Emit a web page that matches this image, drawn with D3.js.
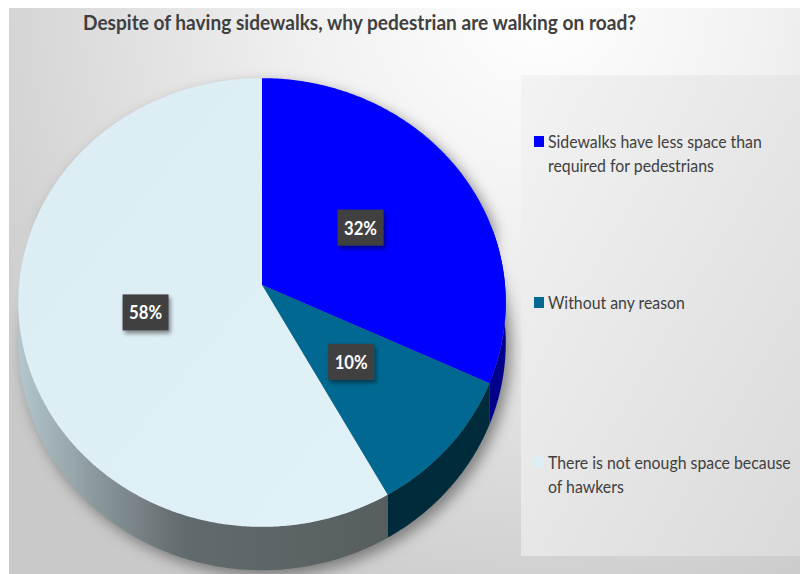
<!DOCTYPE html>
<html>
<head>
<meta charset="utf-8">
<script src="https://cdn.jsdelivr.net/npm/d3@7"></script>
<style>
  html, body { margin: 0; padding: 0; background: #ffffff; }
  svg { display: block; }
</style>
</head>
<body>
<svg id="chart" width="800" height="574"></svg>
<script>
// ---- data ----
const titleText = "Despite of having sidewalks, why pedestrian are walking on road?";
const categories = [
  "Sidewalks have less space than required for pedestrians",
  "Without any reason",
  "There is not enough space because of hawkers"
];
const legendLines = [
  ["Sidewalks have less space than", "required for pedestrians"],
  ["Without any reason"],
  ["There is not enough space because", "of hawkers"]
];
const values = [32, 10, 58];
const percentLabels = ["32%", "10%", "58%"];

// ---- styling ----
const topColors = ["#0000ff", "#006891", "url(#topLight)"];
const swatchColors = ["#0000ff", "#006891", "#ddeff5"];
const sideColors = ["#00008a", "#002b3b", "url(#sideLight)"];
const FONT = "Lato, 'Open Sans', sans-serif";

const W = 800, H = 574;
const svg = d3.select("#chart");
const defs = svg.append("defs");

// background gradients
const bg = defs.append("radialGradient").attr("id", "bgGrad")
  .attr("gradientUnits", "userSpaceOnUse")
  .attr("cx", 540).attr("cy", 0).attr("r", 660);
bg.append("stop").attr("offset", 0).attr("stop-color", "#ffffff");
bg.append("stop").attr("offset", 0.35).attr("stop-color", "#f1f1f1");
bg.append("stop").attr("offset", 1).attr("stop-color", "#c9c9c9");

const lg = defs.append("linearGradient").attr("id", "legendGrad")
  .attr("x1", 0).attr("y1", 0).attr("x2", 1).attr("y2", 1);
lg.append("stop").attr("offset", 0).attr("stop-color", "#f3f3f3");
lg.append("stop").attr("offset", 1).attr("stop-color", "#dadada");

const tl = defs.append("linearGradient").attr("id", "topLight")
  .attr("x1", 0).attr("y1", 0).attr("x2", 1).attr("y2", 1);
tl.append("stop").attr("offset", 0).attr("stop-color", "#dbecf2");
tl.append("stop").attr("offset", 1).attr("stop-color", "#e0f1f7");

const sl = defs.append("linearGradient").attr("id", "sideLight")
  .attr("gradientUnits", "userSpaceOnUse")
  .attr("x1", 18).attr("y1", 0).attr("x2", 390).attr("y2", 0);
sl.append("stop").attr("offset", 0).attr("stop-color", "#b3c7cd");
sl.append("stop").attr("offset", 0.2).attr("stop-color", "#8c9a9e");
sl.append("stop").attr("offset", 0.45).attr("stop-color", "#616a6c");
sl.append("stop").attr("offset", 1).attr("stop-color", "#575e60");

const shadow = defs.append("filter").attr("id", "pieShadow")
  .attr("x", "-20%").attr("y", "-20%").attr("width", "140%").attr("height", "140%");
shadow.append("feGaussianBlur").attr("stdDeviation", 7);

const boxShadow = defs.append("filter").attr("id", "boxShadow")
  .attr("x", "-30%").attr("y", "-30%").attr("width", "170%").attr("height", "170%");
boxShadow.append("feGaussianBlur").attr("in", "SourceAlpha").attr("stdDeviation", 2).attr("result", "b");
boxShadow.append("feOffset").attr("in", "b").attr("dx", 2).attr("dy", 3).attr("result", "o");
boxShadow.append("feComponentTransfer").attr("in", "o").attr("result", "s")
  .append("feFuncA").attr("type", "linear").attr("slope", 0.45);
const bm = boxShadow.append("feMerge");
bm.append("feMergeNode").attr("in", "s");
bm.append("feMergeNode").attr("in", "SourceGraphic");

// chart area
svg.append("rect").attr("x", 9).attr("y", 8).attr("width", W - 9).attr("height", H - 8)
  .attr("fill", "url(#bgGrad)");

// legend panel
svg.append("rect").attr("x", 521).attr("y", 75).attr("width", W - 521).attr("height", 481)
  .attr("fill", "url(#legendGrad)");

// ---- title ----
function fitText(sel, width) {
  const n = sel.node().getComputedTextLength();
  sel.attr("textLength", width).attr("lengthAdjust", "spacingAndGlyphs");
  return n;
}
const title = svg.append("text")
  .attr("x", 83).attr("y", 30)
  .attr("font-family", FONT).attr("font-weight", 700).attr("font-size", 20)
  .attr("fill", "#404040")
  .text(titleText);
fitText(title, 553);

// ---- 3D pie geometry (perspective projection of a tilted disc) ----
const cx = 262, cy = 285, rx = 243, ry = 223, persp = 0.078, depth = 40;
const rScale = d3.scaleLinear().domain([0, 1]).range([0, 1]);
function project(angle, r, h) {
  const X = rScale(r) * Math.sin(angle);
  const Y = -rScale(r) * Math.cos(angle);
  const w = 1 - persp * Y;
  return [cx + rx * X / w, cy + (ry * Y + h) / w];
}
function arcPoints(a0, a1, h) {
  const n = Math.max(2, Math.ceil(Math.abs(a1 - a0) / (Math.PI / 360)));
  return d3.range(n + 1).map(i => project(a0 + (a1 - a0) * i / n, 1, h));
}

const pie = d3.pie().sort(null).value(d => d);
const arcs = pie(values);
const line = d3.line();

// soft shadow under the whole disc
const outline = arcPoints(Math.PI / 2 - 0.3, Math.PI * 1.5 + 0.3, depth)
  .concat(arcPoints(Math.PI * 1.5 + 0.3, Math.PI * 2.5 - 0.3, 0));
svg.append("path")
  .attr("d", line(outline) + "Z")
  .attr("transform", "translate(5,6)")
  .attr("fill", "#5a5a5a").attr("opacity", 0.7)
  .attr("filter", "url(#pieShadow)");

// side walls (front half only)
const frontLo = Math.PI / 2 - 0.25, frontHi = Math.PI * 1.5 + 0.25;
svg.append("g").selectAll("path")
  .data(arcs)
  .join("path")
  .attr("d", d => {
    const a0 = Math.max(d.startAngle, frontLo), a1 = Math.min(d.endAngle, frontHi);
    if (a0 >= a1) return null;
    const pts = arcPoints(a0, a1, 0).concat(arcPoints(a1, a0, depth));
    return line(pts) + "Z";
  })
  .attr("fill", (d, i) => sideColors[i]);

// top faces
svg.append("g").selectAll("path")
  .data(arcs)
  .join("path")
  .attr("d", d => line([project(0, 0, 0)].concat(arcPoints(d.startAngle, d.endAngle, 0))) + "Z")
  .attr("fill", (d, i) => topColors[i]);

// ---- data labels ----
const lab = svg.append("g").selectAll("g")
  .data(arcs)
  .join("g")
  .attr("transform", d => {
    const p = project((d.startAngle + d.endAngle) / 2, 0.49, 0);
    return `translate(${p[0]},${p[1]})`;
  });
lab.append("rect")
  .attr("x", -23).attr("y", -18).attr("width", 46).attr("height", 36)
  .attr("fill", "#404040")
  .attr("filter", "url(#boxShadow)");
lab.append("text")
  .attr("text-anchor", "middle").attr("y", 7)
  .attr("font-family", FONT).attr("font-weight", 700).attr("font-size", 19)
  .attr("fill", "#ffffff")
  .text((d, i) => percentLabels[i])
  .each(function () { fitText(d3.select(this), 33); });

// ---- legend ----
const legendBaselines = [148, 309, 469];
const lineGap = 24;

// horizontal squeeze that gives Lato the narrow proportions of the legend face
const probe = svg.append("text").attr("font-family", FONT).attr("font-size", 17)
  .text(legendLines[0][0]);
const squeeze = 214 / probe.node().getComputedTextLength();
probe.remove();

const legend = svg.append("g").selectAll("g")
  .data(categories)
  .join("g")
  .attr("transform", (d, i) => `translate(534,${legendBaselines[i]})`);
legend.append("rect")
  .attr("x", 0).attr("y", -12).attr("width", 10).attr("height", 11)
  .attr("fill", (d, i) => swatchColors[i]);
legend.append("text")
  .attr("transform", `translate(14,0) scale(${squeeze},1)`)
  .attr("font-family", FONT).attr("font-size", 17)
  .attr("fill", "#404040")
  .selectAll("tspan")
  .data((d, i) => legendLines[i])
  .join("tspan")
  .attr("x", 0)
  .attr("dy", (d, j) => j === 0 ? 0 : lineGap)
  .text(d => d);
</script>
</body>
</html>
